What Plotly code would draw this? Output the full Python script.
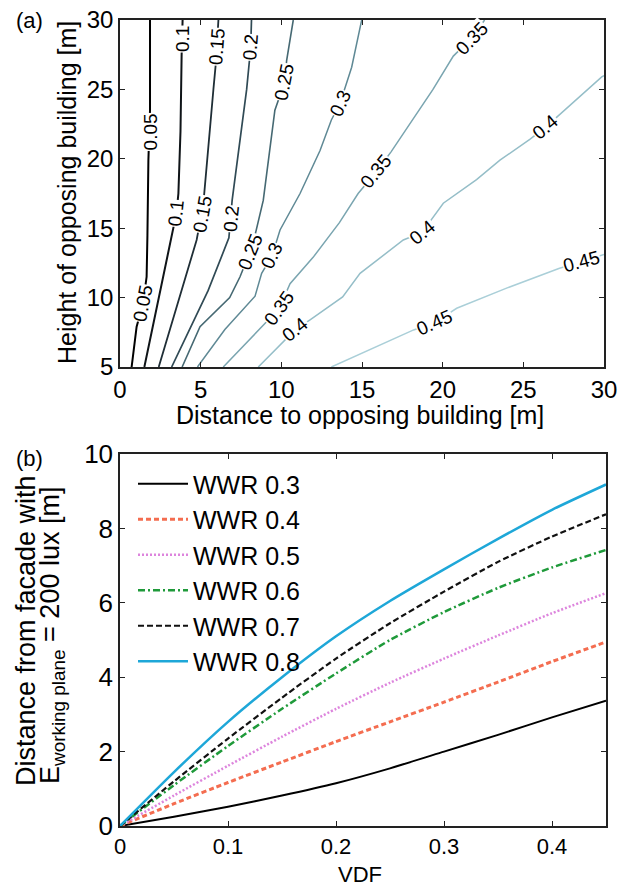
import plotly.graph_objects as go

# ---------------- (a) contour lines ----------------
levels = [0.05, 0.10, 0.15, 0.20, 0.25, 0.30, 0.35, 0.40, 0.45]

c005_x = [0.72, 1.03, 1.43, 1.65, 1.70, 1.76, 1.86, 1.86]
c005_y = [5.0, 7.9, 9.6, 11.5, 14.5, 19.9, 23.5, 30.0]
c010_x = [1.51, 2.40, 3.31, 3.50, 3.62, 3.75, 3.82, 3.88]
c010_y = [5.0, 10.0, 14.9, 16.1, 17.5, 22.0, 27.5, 30.0]
c015_x = [2.40, 3.70, 4.75, 5.05, 5.20, 5.79, 5.95, 6.10]
c015_y = [5.0, 10.0, 14.15, 16.0, 17.2, 25.0, 27.0, 30.0]
c020_x = [3.20, 5.46, 6.75, 6.90, 6.95, 7.85, 7.97, 8.10, 8.15]
c020_y = [5.0, 10.5, 14.3, 16.0, 17.0, 25.0, 26.7, 28.0, 30.0]
c025_x = [3.85, 4.96, 6.80, 7.44, 8.06, 8.37, 8.88, 9.60, 9.90, 10.20, 10.33, 10.74]
c025_y = [5.0, 7.9, 10.0, 11.5, 13.3, 14.5, 17.0, 23.5, 24.5, 25.5, 27.1, 30.0]
c030_x = [4.80, 6.50, 8.37, 8.78, 9.42, 9.92, 11.16, 12.40, 13.10, 13.64, 14.36, 14.98]
c030_y = [5.0, 7.7, 10.1, 11.75, 13.0, 14.87, 17.5, 20.6, 22.8, 24.0, 26.6, 30.0]
c035_x = [6.40, 8.78, 9.86, 10.54, 11.97, 13.60, 14.76, 15.87, 16.80, 19.40, 20.25, 20.66, 21.80, 22.60]
c035_y = [5.0, 7.9, 9.2, 11.0, 12.9, 15.4, 17.5, 19.05, 20.5, 25.0, 26.6, 27.4, 28.7, 30.0]
c040_x = [8.57, 10.00, 10.85, 11.78, 13.80, 14.88, 17.56, 18.72, 20.04, 22.10, 23.55, 25.40, 26.40, 29.86, 30.0]
c040_y = [5.0, 6.7, 7.67, 8.4, 10.05, 11.75, 14.15, 14.7, 16.8, 18.5, 19.9, 21.4, 22.3, 25.9, 26.0]
c045_x = [13.10, 18.20, 19.50, 20.87, 24.00, 27.20, 28.60, 30.0]
c045_y = [5.0, 7.67, 8.2, 9.23, 10.7, 12.1, 12.6, 13.1]

contour_x = [c005_x, c010_x, c015_x, c020_x, c025_x, c030_x, c035_x, c040_x, c045_x]
contour_y = [c005_y, c010_y, c015_y, c020_y, c025_y, c030_y, c035_y, c040_y, c045_y]

# contour labels: level, x, y, angle
label_level = [0.05, 0.05, 0.10, 0.10, 0.15, 0.15, 0.20, 0.20, 0.25, 0.25,
               0.30, 0.30, 0.35, 0.35, 0.35, 0.40, 0.40, 0.40, 0.45, 0.45]
label_x = [1.86, 1.40, 3.88, 3.50, 6.00, 5.10, 8.10, 6.90, 10.17, 8.10,
           13.64, 9.42, 21.80, 15.87, 9.86, 26.40, 18.72, 10.85, 28.60, 19.50]
label_y = [21.9, 9.6, 28.6, 16.1, 28.1, 16.0, 28.0, 15.7, 25.5, 13.3,
           24.0, 13.0, 28.7, 19.05, 9.2, 22.3, 14.7, 7.67, 12.6, 8.2]
label_ang = [-90, -79, -90, -84, -86, -80, -86, -84, -79, -68,
             -66, -65, -46, -51, -55, -40, -40, -39, -15, -24]

contour_colors = ["#000000", "#0f1418", "#1f2e36", "#304a55", "#466973",
                  "#5f8995", "#7aa5b0", "#95bec8", "#aacfd8"]
contour_widths = [2.0, 2.0, 1.8, 1.7, 1.6, 1.5, 1.5, 1.5, 1.5]

# ---------------- (b) distance curves ----------------
vdf = [0.0, 0.05, 0.10, 0.15, 0.20, 0.25, 0.30, 0.35, 0.40, 0.45]
wwr03 = [0.0, 0.25, 0.52, 0.82, 1.15, 1.55, 2.00, 2.45, 2.92, 3.37]
wwr04 = [0.0, 0.60, 1.17, 1.72, 2.27, 2.80, 3.33, 3.87, 4.42, 4.95]
wwr05 = [0.0, 0.82, 1.62, 2.40, 3.15, 3.85, 4.50, 5.12, 5.72, 6.26]
wwr06 = [0.0, 1.10, 2.15, 3.15, 4.10, 5.00, 5.75, 6.40, 6.95, 7.42]
wwr07 = [0.0, 1.20, 2.35, 3.45, 4.50, 5.45, 6.30, 7.10, 7.78, 8.38]
wwr08 = [0.0, 1.45, 2.80, 4.00, 5.10, 6.05, 6.90, 7.72, 8.50, 9.18]
series_names = ["WWR 0.3", "WWR 0.4", "WWR 0.5", "WWR 0.6", "WWR 0.7", "WWR 0.8"]
series_vals = [wwr03, wwr04, wwr05, wwr06, wwr07, wwr08]
series_colors = ["#000000", "#f46d50", "#dd85dd", "#1f9a3a", "#111111", "#1ea7d8"]
series_dash = ["solid", "5px,3px", "2px,2px", "7px,3px,2px,3px", "6px,3px", "solid"]
series_width = [2.0, 3.0, 2.5, 2.5, 2.2, 2.5]

W, H = 627, 887
OFF = 8  # page body margin
FONT = "Liberation Sans, Arial, Helvetica, sans-serif"


def px_x(p):
    return (p - OFF) / W


def px_y(p):
    return 1 - (p - OFF) / H


fig = go.Figure()

for xs, ys, col, w in zip(contour_x, contour_y, contour_colors, contour_widths):
    fig.add_trace(go.Scatter(x=xs, y=ys, mode="lines", line=dict(color=col, width=w),
                             xaxis="x", yaxis="y", showlegend=False, hoverinfo="skip"))

for lev, lx, ly, ang in zip(label_level, label_x, label_y, label_ang):
    fig.add_annotation(x=lx, y=ly, xref="x", yref="y", text=f"{lev:g}", textangle=ang,
                       xanchor="center", yanchor="middle",
                       showarrow=False, font=dict(size=19, color="black", family=FONT),
                       bgcolor="white", borderpad=0)

for name, ys, col, dash, w in zip(series_names, series_vals, series_colors, series_dash, series_width):
    fig.add_trace(go.Scatter(x=vdf, y=ys, mode="lines", name=name,
                             line=dict(color=col, dash=dash, width=w, shape="spline", smoothing=0.6),
                             xaxis="x2", yaxis="y2"))

axis_common = dict(ticks="inside", ticklen=5, tickcolor="#222", showline=True, linecolor="#222",
                   linewidth=1.5, mirror="ticks", showgrid=False, zeroline=False, automargin=False,
                   ticklabeloverflow="allow")

fig.update_layout(
    width=W, height=H, margin=dict(l=0, r=0, t=0, b=0, autoexpand=False),
    paper_bgcolor="white", plot_bgcolor="white",
    font=dict(family=FONT, color="black"),
    xaxis=dict(domain=[px_x(120), px_x(604)], range=[0, 30], tickvals=[0, 5, 10, 15, 20, 25, 30],
               tickfont=dict(size=24), anchor="y", **axis_common),
    yaxis=dict(domain=[px_y(367), px_y(20)], range=[5, 30], tickvals=[5, 10, 15, 20, 25, 30],
               tickfont=dict(size=24), anchor="x", **axis_common),
    xaxis2=dict(domain=[px_x(120), px_x(606)], range=[0, 0.45], tickvals=[0, 0.1, 0.2, 0.3, 0.4],
                ticktext=["0", "0.1", "0.2", "0.3", "0.4"],
                tickfont=dict(size=22), anchor="y2", **axis_common),
    yaxis2=dict(domain=[px_y(826), px_y(454)], range=[0, 10], tickvals=[0, 2, 4, 6, 8, 10],
                tickfont=dict(size=26), anchor="x2", **axis_common),
    legend=dict(x=px_x(133), y=px_y(461), xanchor="left", yanchor="top",
                font=dict(size=25, family=FONT), bgcolor="rgba(0,0,0,0)", borderwidth=0,
                tracegroupgap=0, itemwidth=50),
    showlegend=True,
)


def note(px, py, text, size, angle=0):
    fig.add_annotation(x=px_x(px), y=px_y(py), xref="paper", yref="paper", text=text,
                       textangle=angle, xanchor="center", yanchor="middle", showarrow=False,
                       font=dict(size=size, family=FONT, color="black"))


note(29, 21, "(a)", 22)
note(29, 458, "(b)", 22)
note(67, 193, "Height of opposing building [m]", 25, -90)
note(360, 415, "Distance to opposing building [m]", 25)
note(360, 874, "VDF", 22)
note(26, 631, "Distance from facade with", 27, -90)
note(52, 636, "E<sub>working plane</sub> = 200 lux [m]", 27, -90)

fig.write_html("out.html")
